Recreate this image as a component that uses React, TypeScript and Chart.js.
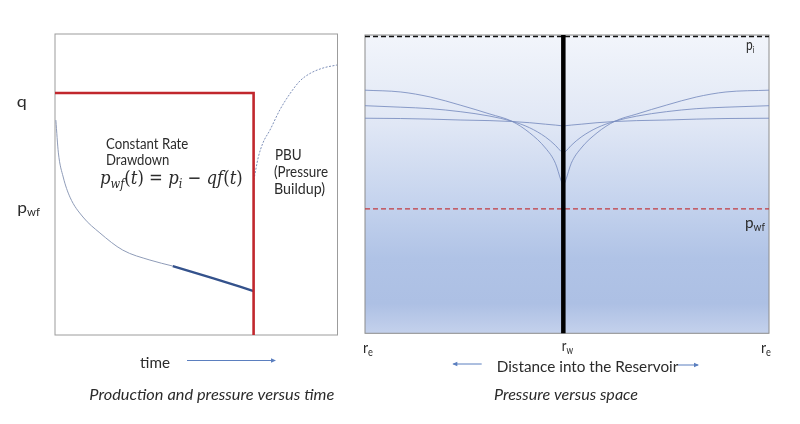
import React, { useEffect, useRef } from "react";
import { Chart, registerables } from "chart.js";
Chart.register(...registerables);

// ---------- Left panel: production and pressure versus time ----------
const rateTime = [0, 70.3, 70.3];
const rateValue = [80.4, 80.4, 0];
const drawdownTime = [0.3, 1.2, 2.9, 5.3, 9.9, 15.9, 24.0, 33.6, 41.7];
const drawdownPwf = [71.4, 60.5, 52.5, 45.8, 39.2, 33.9, 28.2, 24.9, 22.9];
const lateTime = [41.7, 55.8, 70.3];
const latePwf = [22.9, 18.9, 14.6];
const buildupTime = [70.4, 71.9, 73.6, 76.1, 79.6, 83.2, 86.7, 90.3, 94.9, 99.8];
const buildupPws = [51.5, 58.8, 63.8, 68.1, 74.8, 80.2, 84.4, 86.9, 88.7, 89.7];

// ---------- Right panel: pressure versus space ----------
const distLeft = [-100, -82, -67, -52, -37, -26, -17, -9, -4, -1.2, 0];
const distRight = [0, 1.2, 4, 9, 17, 26, 37, 52, 67, 82, 103.7];
const profileALeft = [81.5, 80.9, 79.2, 76.5, 73.5, 71.1, 67.2, 62.1, 57.0, 51.3, 49.3];
const profileARight = [49.3, 51.3, 57.0, 62.1, 67.2, 71.1, 73.5, 76.5, 79.2, 80.9, 81.5];
const profileBLeft = [76.3, 75.8, 75.3, 74.3, 72.8, 71.1, 68.9, 65.8, 63.0, 61.0, 60.4];
const profileBRight = [60.4, 61.0, 63.0, 65.8, 68.9, 71.1, 72.8, 74.3, 75.3, 75.8, 76.3];
const profileCLeft = [72.1, 72.0, 71.8, 71.5, 71.3, 71.0, 70.6, 70.1, 69.8, 69.6, 69.5];
const profileCRight = [69.5, 69.6, 69.8, 70.1, 70.6, 71.0, 71.3, 71.5, 71.8, 72.0, 72.1];
const pInitial = 99.5;
const pWellFlowing = 41.7;
const wellPosition = 0;
const reservoirEdges = [-100, 103.7];

const SANS = "Lato, 'Open Sans', sans-serif";
const SERIF = "'DejaVu Serif', 'Liberation Serif', serif";
const TEXT = "#2b2b2b";

const xy = (xs: number[], ys: number[]) => xs.map((x, i) => ({ x, y: ys[i] }));

type Seg = { t: string; size: number; style?: string; family?: string; dy?: number };

function drawRich(ctx: CanvasRenderingContext2D, x: number, y: number, segs: Seg[], width?: number) {
  ctx.save();
  ctx.textBaseline = "alphabetic";
  ctx.textAlign = "left";
  ctx.fillStyle = TEXT;
  const fonts = segs.map((s) => `${s.style || ""} ${s.size}px ${s.family || SANS}`);
  let total = 0;
  const ws = segs.map((s, i) => {
    ctx.font = fonts[i];
    const w = ctx.measureText(s.t).width;
    total += w;
    return w;
  });
  ctx.translate(x, y);
  if (width) ctx.scale(width / total, 1);
  let cx = 0;
  segs.forEach((s, i) => {
    ctx.font = fonts[i];
    ctx.fillText(s.t, cx, s.dy || 0);
    cx += ws[i];
  });
  ctx.restore();
}

function arrow(ctx: CanvasRenderingContext2D, x1: number, y1: number, x2: number, y2: number) {
  ctx.save();
  ctx.strokeStyle = "#5b7fbf";
  ctx.fillStyle = "#5b7fbf";
  ctx.lineWidth = 1;
  ctx.beginPath();
  ctx.moveTo(x1, y1);
  ctx.lineTo(x2, y2);
  ctx.stroke();
  const dir = Math.sign(x2 - x1);
  ctx.beginPath();
  ctx.moveTo(x2 + dir * 1, y2);
  ctx.lineTo(x2 - dir * 4, y2 - 2.2);
  ctx.lineTo(x2 - dir * 4, y2 + 2.2);
  ctx.closePath();
  ctx.fill();
  ctx.restore();
}

const line = (extra: any) => ({
  pointRadius: 0,
  fill: false,
  tension: 0.4,
  cubicInterpolationMode: "monotone",
  ...extra,
});

const leftDecor = {
  id: "leftDecor",
  beforeDatasetsDraw(chart: any) {
    const { ctx, chartArea: a } = chart;
    ctx.save();
    ctx.strokeStyle = "#9c9c9c";
    ctx.lineWidth = 1;
    ctx.strokeRect(a.left, a.top, a.right - a.left, a.bottom - a.top);
    ctx.restore();
  },
  afterDraw(chart: any) {
    const ctx = chart.ctx as CanvasRenderingContext2D;
    drawRich(ctx, 16.7, 106.5, [{ t: "q", size: 16 }], 10);
    drawRich(ctx, 17.3, 212.5, [{ t: "p", size: 16 }, { t: "wf", size: 10.5, dy: 3 }], 22.7);
    drawRich(ctx, 106, 148.5, [{ t: "Constant Rate", size: 15.5 }], 82.3);
    drawRich(ctx, 106, 165, [{ t: "Drawdown", size: 15.5 }], 63.3);
    const it = "italic";
    drawRich(
      ctx,
      100,
      184,
      [
        { t: "p", size: 19, style: it, family: SERIF },
        { t: "wf", size: 13, style: it, family: SERIF, dy: 4 },
        { t: "(", size: 19, family: SERIF },
        { t: "t", size: 19, style: it, family: SERIF },
        { t: ") = ", size: 19, family: SERIF },
        { t: "p", size: 19, style: it, family: SERIF },
        { t: "i", size: 13, style: it, family: SERIF, dy: 4 },
        { t: " \u2212 ", size: 19, family: SERIF },
        { t: "qf", size: 19, style: it, family: SERIF },
        { t: "(", size: 19, family: SERIF },
        { t: "t", size: 19, style: it, family: SERIF },
        { t: ")", size: 19, family: SERIF },
      ],
      142.7
    );
    drawRich(ctx, 275, 160, [{ t: "PBU", size: 15.5 }], 26.7);
    drawRich(ctx, 274, 176.5, [{ t: "(Pressure", size: 15.5 }], 54);
    drawRich(ctx, 274, 193.5, [{ t: "Buildup)", size: 15.5 }], 51);
    drawRich(ctx, 140, 368, [{ t: "time", size: 16 }], 30);
    arrow(ctx, 187, 360.5, 275, 360.5);
    drawRich(ctx, 89.3, 400, [{ t: "Production and pressure versus time", size: 15.5, style: "italic" }], 245);
  },
};

const rightDecor = {
  id: "rightDecor",
  beforeDatasetsDraw(chart: any) {
    const { ctx, chartArea: a } = chart;
    ctx.save();
    const g = ctx.createLinearGradient(0, a.top, 0, a.bottom);
    g.addColorStop(0, "#f2f5fb");
    g.addColorStop(0.3, "#e0e7f5");
    g.addColorStop(0.55, "#c6d4ee");
    g.addColorStop(0.75, "#b0c3e6");
    g.addColorStop(0.9, "#adc0e4");
    g.addColorStop(1, "#c4d1ec");
    ctx.fillStyle = g;
    ctx.fillRect(a.left, a.top, a.right - a.left, a.bottom - a.top);
    ctx.strokeStyle = "#8c8c8c";
    ctx.lineWidth = 1;
    ctx.strokeRect(a.left, a.top, a.right - a.left, a.bottom - a.top);
    ctx.restore();
  },
  afterDraw(chart: any) {
    const ctx = chart.ctx as CanvasRenderingContext2D;
    const o = 350;
    drawRich(ctx, 746 - o, 50, [{ t: "p", size: 16 }, { t: "i", size: 10, dy: 3 }], 8.5);
    drawRich(ctx, 745 - o, 227.5, [{ t: "p", size: 16 }, { t: "wf", size: 10.5, dy: 3 }], 20);
    drawRich(ctx, 363 - o, 353.3, [{ t: "r", size: 16 }, { t: "e", size: 10.5, dy: 3 }], 10);
    drawRich(ctx, 561.7 - o, 351.2, [{ t: "r", size: 16 }, { t: "w", size: 10.5, dy: 3 }], 11.3);
    drawRich(ctx, 761 - o, 353.3, [{ t: "r", size: 16 }, { t: "e", size: 10.5, dy: 3 }], 10);
    drawRich(ctx, 496.7 - o, 372, [{ t: "Distance into the Reservoir", size: 15.5 }], 181.6);
    arrow(ctx, 481.7 - o, 364, 453.3 - o, 364);
    arrow(ctx, 678 - o, 365, 698 - o, 365);
    drawRich(ctx, 494 - o, 400, [{ t: "Pressure versus space", size: 15.5, style: "italic" }], 144);
  },
};

const curveColor = "rgba(120,140,190,0.85)";

function leftConfig(): any {
  return {
    type: "line",
    data: {
      datasets: [
        line({ data: xy(rateTime, rateValue), borderColor: "#c1272d", borderWidth: 2.6, tension: 0, order: 0 }),
        line({ data: xy(lateTime, latePwf), borderColor: "#34528c", borderWidth: 2.4, order: 1 }),
        line({ data: xy(drawdownTime, drawdownPwf), borderColor: "#8f9cb8", borderWidth: 1, order: 2 }),
        line({ data: xy(buildupTime, buildupPws), borderColor: "#7d8fb8", borderWidth: 1, borderDash: [2, 1.5], order: 3 }),
      ],
    },
    options: {
      responsive: false,
      animation: false,
      events: [],
      layout: { padding: { left: 55, top: 34, right: 350 - 337.5, bottom: 424 - 335 } },
      plugins: { legend: { display: false }, tooltip: { enabled: false }, title: { display: false } },
      scales: {
        x: { type: "linear", display: false, min: 0, max: 100 },
        y: { type: "linear", display: false, min: 0, max: 100 },
      },
    },
    plugins: [leftDecor],
  };
}

function rightConfig(): any {
  const [e0, e1] = reservoirEdges;
  return {
    type: "line",
    data: {
      datasets: [
        line({ data: [{ x: wellPosition, y: 0 }, { x: wellPosition, y: 100 }], borderColor: "#000", borderWidth: 4.5, tension: 0, order: 0, clip: false }),
        line({ data: [{ x: e0, y: pInitial }, { x: e1, y: pInitial }], borderColor: "#111", borderWidth: 1.5, borderDash: [5, 3], tension: 0, order: 1, clip: false }),
        line({ data: [{ x: e0, y: pWellFlowing }, { x: e1, y: pWellFlowing }], borderColor: "#c23b3f", borderWidth: 1.4, borderDash: [5, 3], tension: 0, order: 2 }),
        line({ data: xy(distLeft, profileALeft), borderColor: curveColor, borderWidth: 1, order: 3 }),
        line({ data: xy(distRight, profileARight), borderColor: curveColor, borderWidth: 1, order: 3 }),
        line({ data: xy(distLeft, profileBLeft), borderColor: curveColor, borderWidth: 1, order: 3 }),
        line({ data: xy(distRight, profileBRight), borderColor: curveColor, borderWidth: 1, order: 3 }),
        line({ data: xy(distLeft, profileCLeft), borderColor: curveColor, borderWidth: 1, order: 3 }),
        line({ data: xy(distRight, profileCRight), borderColor: curveColor, borderWidth: 1, order: 3 }),
      ],
    },
    options: {
      responsive: false,
      animation: false,
      events: [],
      layout: { padding: { left: 15, top: 35, right: 450 - 419, bottom: 424 - 333.3 } },
      plugins: { legend: { display: false }, tooltip: { enabled: false }, title: { display: false } },
      scales: {
        x: { type: "linear", display: false, min: e0, max: e1 },
        y: { type: "linear", display: false, min: 0, max: 100 },
      },
    },
    plugins: [rightDecor],
  };
}

export default function App() {
  const leftRef = useRef<HTMLCanvasElement>(null);
  const rightRef = useRef<HTMLCanvasElement>(null);
  useEffect(() => {
    const c1 = new Chart(leftRef.current as HTMLCanvasElement, leftConfig());
    const c2 = new Chart(rightRef.current as HTMLCanvasElement, rightConfig());
    return () => {
      c1.destroy();
      c2.destroy();
    };
  }, []);
  return (
    <div style={{ position: "absolute", left: 0, top: 0, width: 800, height: 424, background: "#fff", overflow: "hidden" }}>
      <canvas ref={leftRef} width={350} height={424} style={{ position: "absolute", left: 0, top: 0 }} />
      <canvas ref={rightRef} width={450} height={424} style={{ position: "absolute", left: 350, top: 0 }} />
    </div>
  );
}
